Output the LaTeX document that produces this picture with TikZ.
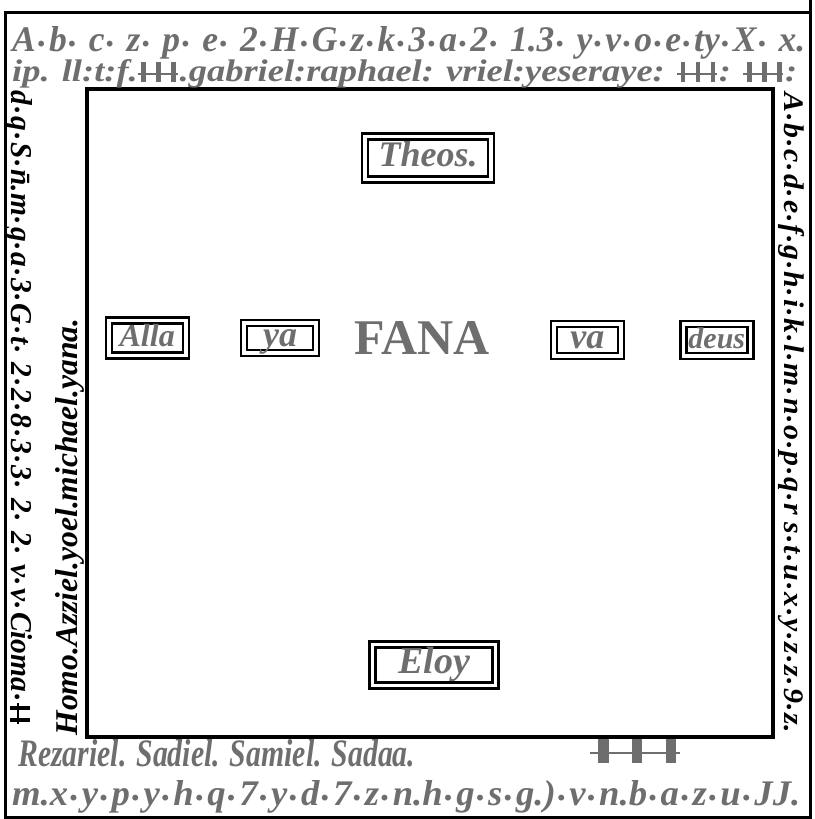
\documentclass[tikz,border=0pt]{standalone}
\usepackage{fontspec}
\setmainfont{Liberation Serif}
\usepackage{tikz}
\usepackage{graphicx}
\usetikzlibrary{positioning}

\definecolor{inkgrey}{HTML}{6E6E6E}

% raised point between letters
\newcommand{\mdot}{\kern0.06em\raisebox{0.3ex}{.}\kern0.06em}
% tally marks: strokes crossed by one bar
\newcommand{\barsiii}{\mbox{\rlap{\rule[0.4ex]{1.1em}{0.14ex}}\kern0.1em\rule[-0.1ex]{0.13em}{1.4ex}\kern0.28em\rule[-0.1ex]{0.13em}{1.4ex}\kern0.28em\rule[-0.1ex]{0.13em}{1.4ex}\kern0.1em}}
\newcommand{\barsii}{\mbox{\rlap{\rule[0.4ex]{0.7em}{0.14ex}}\kern0.1em\rule[-0.1ex]{0.13em}{1.4ex}\kern0.28em\rule[-0.1ex]{0.13em}{1.4ex}\kern0.1em}}

\begin{document}
\begin{tikzpicture}[
  x=1pt, y=-1pt,
  frameline/.style={draw, line width=3pt},
  cellbox/.style={
    draw, line width=2.4pt, double=white, double distance=3.6pt,
    inner sep=0pt, text height=22pt, text depth=6pt, text=inkgrey,
    font=\fontsize{32}{32}\selectfont\bfseries\itshape
  },
  greyline/.style={inner sep=0pt, text=inkgrey, font=\bfseries\itshape},
  sideline/.style={inner sep=0pt, text=black, font=\bfseries\itshape}
]
\useasboundingbox (0,0) rectangle (814,819);

% Frames
\draw[frameline] (5,12) rectangle (810,817);
\draw[frameline] (810,12) -- (810,0);
\draw[line width=3.5pt] (87,89) rectangle (773,737);

% Top rows
\node[greyline, anchor=base west] (toprowa) at (12,51)
  {\resizebox{793pt}{25pt}{A\mdot b\mdot{} c\mdot{} z\mdot{} p\mdot{} e\mdot{} 2\mdot H\mdot G\mdot z\mdot k\mdot 3\mdot a\mdot 2\mdot{} 1.3\mdot{} y\mdot v\mdot o\mdot e\mdot ty\mdot X\mdot{} x.}};
\node[greyline, anchor=base west] (toprowb) at (12,81)
  {\resizebox{785pt}{22pt}{ip. ll:t:f.\barsiii.gabriel:raphael: vriel:yeseraye: \barsiii: \barsiii:}};

% Bottom rows
\node[greyline, anchor=base west] (botrowa) at (18,766)
  {\resizebox{397pt}{27pt}{Rezariel. Sadiel. Samiel. Sadaa.}};
\node[greyline] (botbars) at (637,751) {\resizebox{95pt}{22pt}{\barsiii}};
\node[greyline, anchor=base west] (botrowb) at (12,805)
  {\resizebox{788pt}{25pt}{m.x\mdot y\mdot p\mdot y\mdot h\mdot q\mdot 7\mdot y\mdot d\mdot 7\mdot z\mdot n.h\mdot g\mdot s\mdot g.)\mdot v\mdot n.b\mdot a\mdot z\mdot u\mdot JJ.}};

% Side columns
\node[sideline, rotate=-90] (leftcola) at (19,408)
  {\resizebox{634pt}{21pt}{d\mdot q\mdot S\mdot\=n.m\mdot g\mdot a\mdot 3\mdot G\mdot t\mdot{} 2\mdot 2\mdot 8\mdot 3\mdot 3\mdot{} 2\mdot{} 2\mdot{} v\mdot v\mdot Cioma\mdot\barsii}};
\node[sideline, rotate=90] (leftcolb) at (70,527)
  {\resizebox{417pt}{22pt}{Homo.Azziel.yoel.michael.yana.}};
\node[sideline, rotate=-90] (rightcol) at (791,413)
  {\resizebox{640pt}{20pt}{A\mdot b\mdot c\mdot d\mdot e\mdot f\mdot g\mdot h\mdot i\mdot k\mdot l\mdot m\mdot n\mdot o\mdot p\mdot q\mdot r s\mdot t\mdot u\mdot x\mdot y\mdot z\mdot z\mdot 9\mdot z.}};

% Centre
\node[inner sep=0pt, text=inkgrey, font=\bfseries] (fana) at (422,338) {\resizebox{135pt}{!}{FANA}};
\node[cellbox, minimum width=72pt, minimum height=30pt, left=37pt of fana, font=\fontsize{36}{36}\selectfont\bfseries\itshape] (ya) {ya};
\node[cellbox, minimum width=77pt, minimum height=35pt, left=56pt of ya] (alla) {Alla};
\node[cellbox, minimum width=67pt, minimum height=32pt, right=63pt of fana, yshift=-2pt, font=\fontsize{36}{36}\selectfont\bfseries\itshape] (va) {va};
\node[cellbox, minimum width=67pt, minimum height=32pt, right=60pt of va, font=\fontsize{30}{30}\selectfont\bfseries\itshape] (deus) {deus};
\node[cellbox, minimum width=126pt, minimum height=43pt, font=\fontsize{36}{36}\selectfont\bfseries\itshape] (theos) at (428,158) {Theos.};
\node[cellbox, minimum width=123pt, minimum height=41pt, font=\fontsize{38}{38}\selectfont\bfseries\itshape] (eloy) at (434,665) {Eloy};

\end{tikzpicture}
\end{document}
